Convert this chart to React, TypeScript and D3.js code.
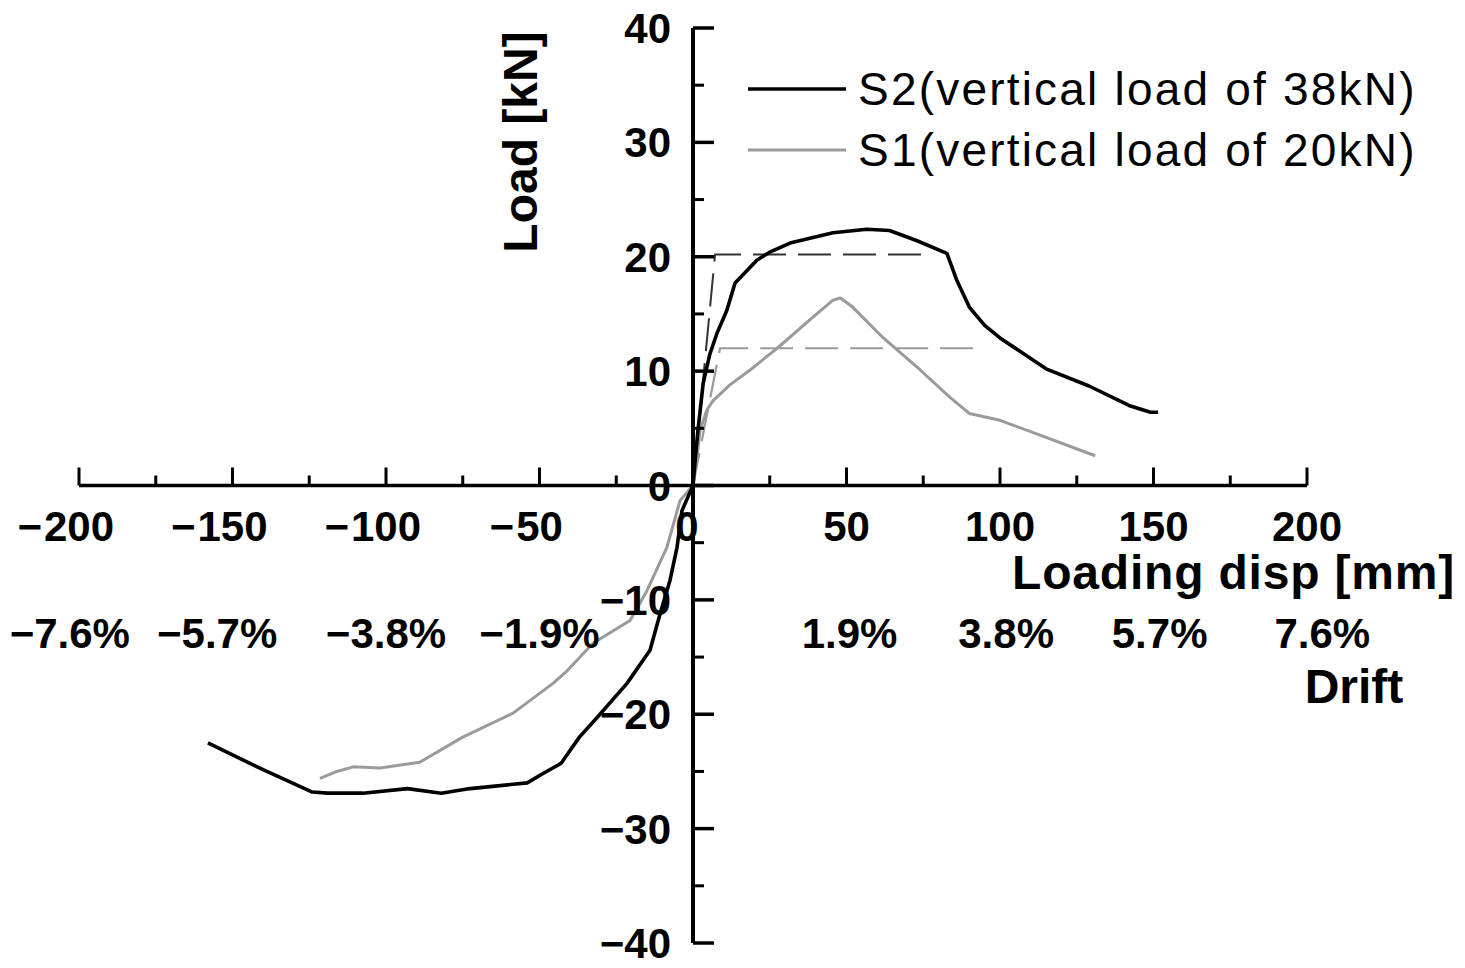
import React from "react";
import * as d3 from "d3";

const W = 1465;
const H = 968;

// x ticks (mm) and y ticks (kN)
const xMajorTicks = [-200, -150, -100, -50, 0, 50, 100, 150, 200];
const xMinorTicks = [-175, -125, -75, -25, 25, 75, 125, 175];
const yMajorTicks = [-40, -30, -20, -10, 0, 10, 20, 30, 40];
const yMinorTicks = [-35, -25, -15, -5, 5, 15, 25, 35];

// drift labels and the displacement (mm) they sit under
const driftPositions = [-203, -155, -100, -50, 51, 102, 152, 205];
const driftLabels = ["−7.6%", "−5.7%", "−3.8%", "−1.9%", "1.9%", "3.8%", "5.7%", "7.6%"];

// S2 (vertical load of 38kN) envelope: [disp mm, load kN]
const s2Data: [number, number][] = [
  [-158, -22.5], [-142, -24.6], [-124, -26.8], [-119, -26.9], [-107.5, -26.9],
  [-93, -26.5], [-82, -26.9], [-72.6, -26.5], [-54, -26.0], [-49, -25.2],
  [-43, -24.3], [-37, -22.0], [-31.3, -20.3], [-21.5, -17.3], [-14, -14.4],
  [-10.7, -11.2], [-7.5, -8.3], [-5.2, -5.4], [-3.6, -2.2], [0, 0],
  [0.8, 2.5], [1.6, 4.8], [3.3, 8.9], [5.5, 11.5], [7.8, 13.3], [11, 15.3],
  [13.7, 17.7], [20.8, 19.7], [25, 20.4], [31.6, 21.2], [45.6, 22.1],
  [56.6, 22.4], [64, 22.3], [73, 21.4], [82.7, 20.3], [86, 17.9], [90, 15.6],
  [95, 14.0], [100, 12.9], [115, 10.2], [129, 8.7], [142, 7.0], [149, 6.4],
  [151.5, 6.4],
];

// S1 (vertical load of 20kN) envelope
const s1Data: [number, number][] = [
  [-121.5, -25.6], [-116, -25.0], [-110.7, -24.6], [-102, -24.7], [-89, -24.2],
  [-75, -22.0], [-58.6, -19.9], [-45.6, -17.3], [-41, -16.2], [-32.6, -13.8],
  [-20.5, -11.8], [-15, -9.2], [-8.5, -5.4], [-4.2, -1.3], [0, 0],
  [1.2, 2.3], [2.3, 4.8], [4.5, 6.6], [6.5, 7.4], [12, 8.8], [18.6, 10.1],
  [27.4, 12.0], [39, 14.7], [45.6, 16.2], [48, 16.4], [52, 15.6], [62, 12.9],
  [74, 10.1], [83.7, 7.7], [90, 6.3], [100, 5.7], [115, 4.2], [131, 2.6],
];

// idealized bilinear (dashed) lines
const s2Bilinear: [number, number][] = [[0, 0], [7.2, 20.2], [78, 20.2]];
const s1Bilinear: [number, number][] = [[0, 0], [8.8, 12.0], [94, 12.0]];

const legendItems = [
  { label: "S2(vertical load of 38kN)", color: "#000", width: 3.5 },
  { label: "S1(vertical load of 20kN)", color: "#9a9a9a", width: 3 },
];

const FONT = "'Liberation Sans', Arial, Helvetica, sans-serif";

export default function App() {
  const x = d3.scaleLinear().domain([-200, 200]).range([79, 1307]);
  const y = d3.scaleLinear().domain([-40, 40]).range([943, 28]);
  const line = d3
    .line<[number, number]>()
    .x((d) => x(d[0]))
    .y((d) => y(d[1]))
    .curve(d3.curveLinear);

  const tickFs = 42;
  const digitW = 0.556 * tickFs;

  return (
    <svg
      width={W}
      height={H}
      viewBox={`0 0 ${W} ${H}`}
      style={{ position: "absolute", left: 0, top: 0, display: "block", background: "#fff" }}
      fontFamily={FONT}
    >
      <rect x={0} y={0} width={W} height={H} fill="#fff" />

      {/* dashed bilinear lines */}
      <path d={line(s1Bilinear) || ""} fill="none" stroke="#9a9a9a" strokeWidth={2.2} strokeDasharray="33 12" />
      <path d={line(s2Bilinear) || ""} fill="none" stroke="#333" strokeWidth={2} strokeDasharray="33 12" />

      {/* data curves */}
      <path d={line(s1Data) || ""} fill="none" stroke="#9a9a9a" strokeWidth={3} strokeLinejoin="round" />
      <path d={line(s2Data) || ""} fill="none" stroke="#000" strokeWidth={3.6} strokeLinejoin="round" />

      {/* x axis */}
      <line x1={x(-200)} x2={x(200)} y1={y(0)} y2={y(0)} stroke="#000" strokeWidth={3.5} />
      {xMajorTicks.map((t) => (
        <line key={"xM" + t} x1={x(t)} x2={x(t)} y1={y(0)} y2={y(0) - 18} stroke="#000" strokeWidth={3} />
      ))}
      {xMinorTicks.map((t) => (
        <line key={"xm" + t} x1={x(t)} x2={x(t)} y1={y(0)} y2={y(0) - 10} stroke="#000" strokeWidth={3} />
      ))}
      {xMajorTicks.map((t) => {
        const abs = String(Math.abs(t));
        const cx = t === 0 ? x(t) - 6 : x(t);
        const w = abs.length * digitW;
        return (
          <g key={"xl" + t} fontSize={tickFs} fontWeight="bold">
            <text x={cx} y={541} textAnchor="middle">{abs}</text>
            {t < 0 && (
              <text x={cx - w / 2 - 2} y={541} textAnchor="end">−</text>
            )}
          </g>
        );
      })}

      {/* y axis */}
      <line x1={x(0)} x2={x(0)} y1={y(-40)} y2={y(40)} stroke="#000" strokeWidth={4} />
      {yMajorTicks.map((t) => (
        <line key={"yM" + t} x1={x(0)} x2={x(0) + 21} y1={y(t)} y2={y(t)} stroke="#000" strokeWidth={3.5} />
      ))}
      {yMinorTicks.map((t) => (
        <line key={"ym" + t} x1={x(0)} x2={x(0) + 11} y1={y(t)} y2={y(t)} stroke="#000" strokeWidth={3} />
      ))}
      {yMajorTicks.map((t) => (
        <text
          key={"yl" + t}
          x={671}
          y={y(t)}
          dy="0.36em"
          textAnchor="end"
          fontSize={tickFs}
          fontWeight="bold"
        >
          {t < 0 ? "−" + Math.abs(t) : String(t)}
        </text>
      ))}

      {/* drift labels */}
      {driftPositions.map((p, i) => (
        <text key={"d" + p} x={x(p)} y={648} textAnchor="middle" fontSize={tickFs} fontWeight="bold">
          {driftLabels[i]}
        </text>
      ))}

      {/* axis titles */}
      <text x={1455} y={589} textAnchor="end" fontSize={48} fontWeight="bold" letterSpacing={0.8}>
        Loading disp [mm]
      </text>
      <text x={1354} y={703} textAnchor="middle" fontSize={48} fontWeight="bold">
        Drift
      </text>
      <text
        transform={`translate(537, 142) rotate(-90)`}
        textAnchor="middle"
        fontSize={48}
        fontWeight="bold"
      >
        Load [kN]
      </text>

      {/* legend */}
      {legendItems.map((it, i) => {
        const ly = 89 + i * 61;
        return (
          <g key={it.label}>
            <line x1={748} x2={846} y1={ly} y2={ly} stroke={it.color} strokeWidth={it.width} />
            <text x={858} y={ly + 16} fontSize={46} letterSpacing={2.2} fill="#000">
              {it.label}
            </text>
          </g>
        );
      })}
    </svg>
  );
}
